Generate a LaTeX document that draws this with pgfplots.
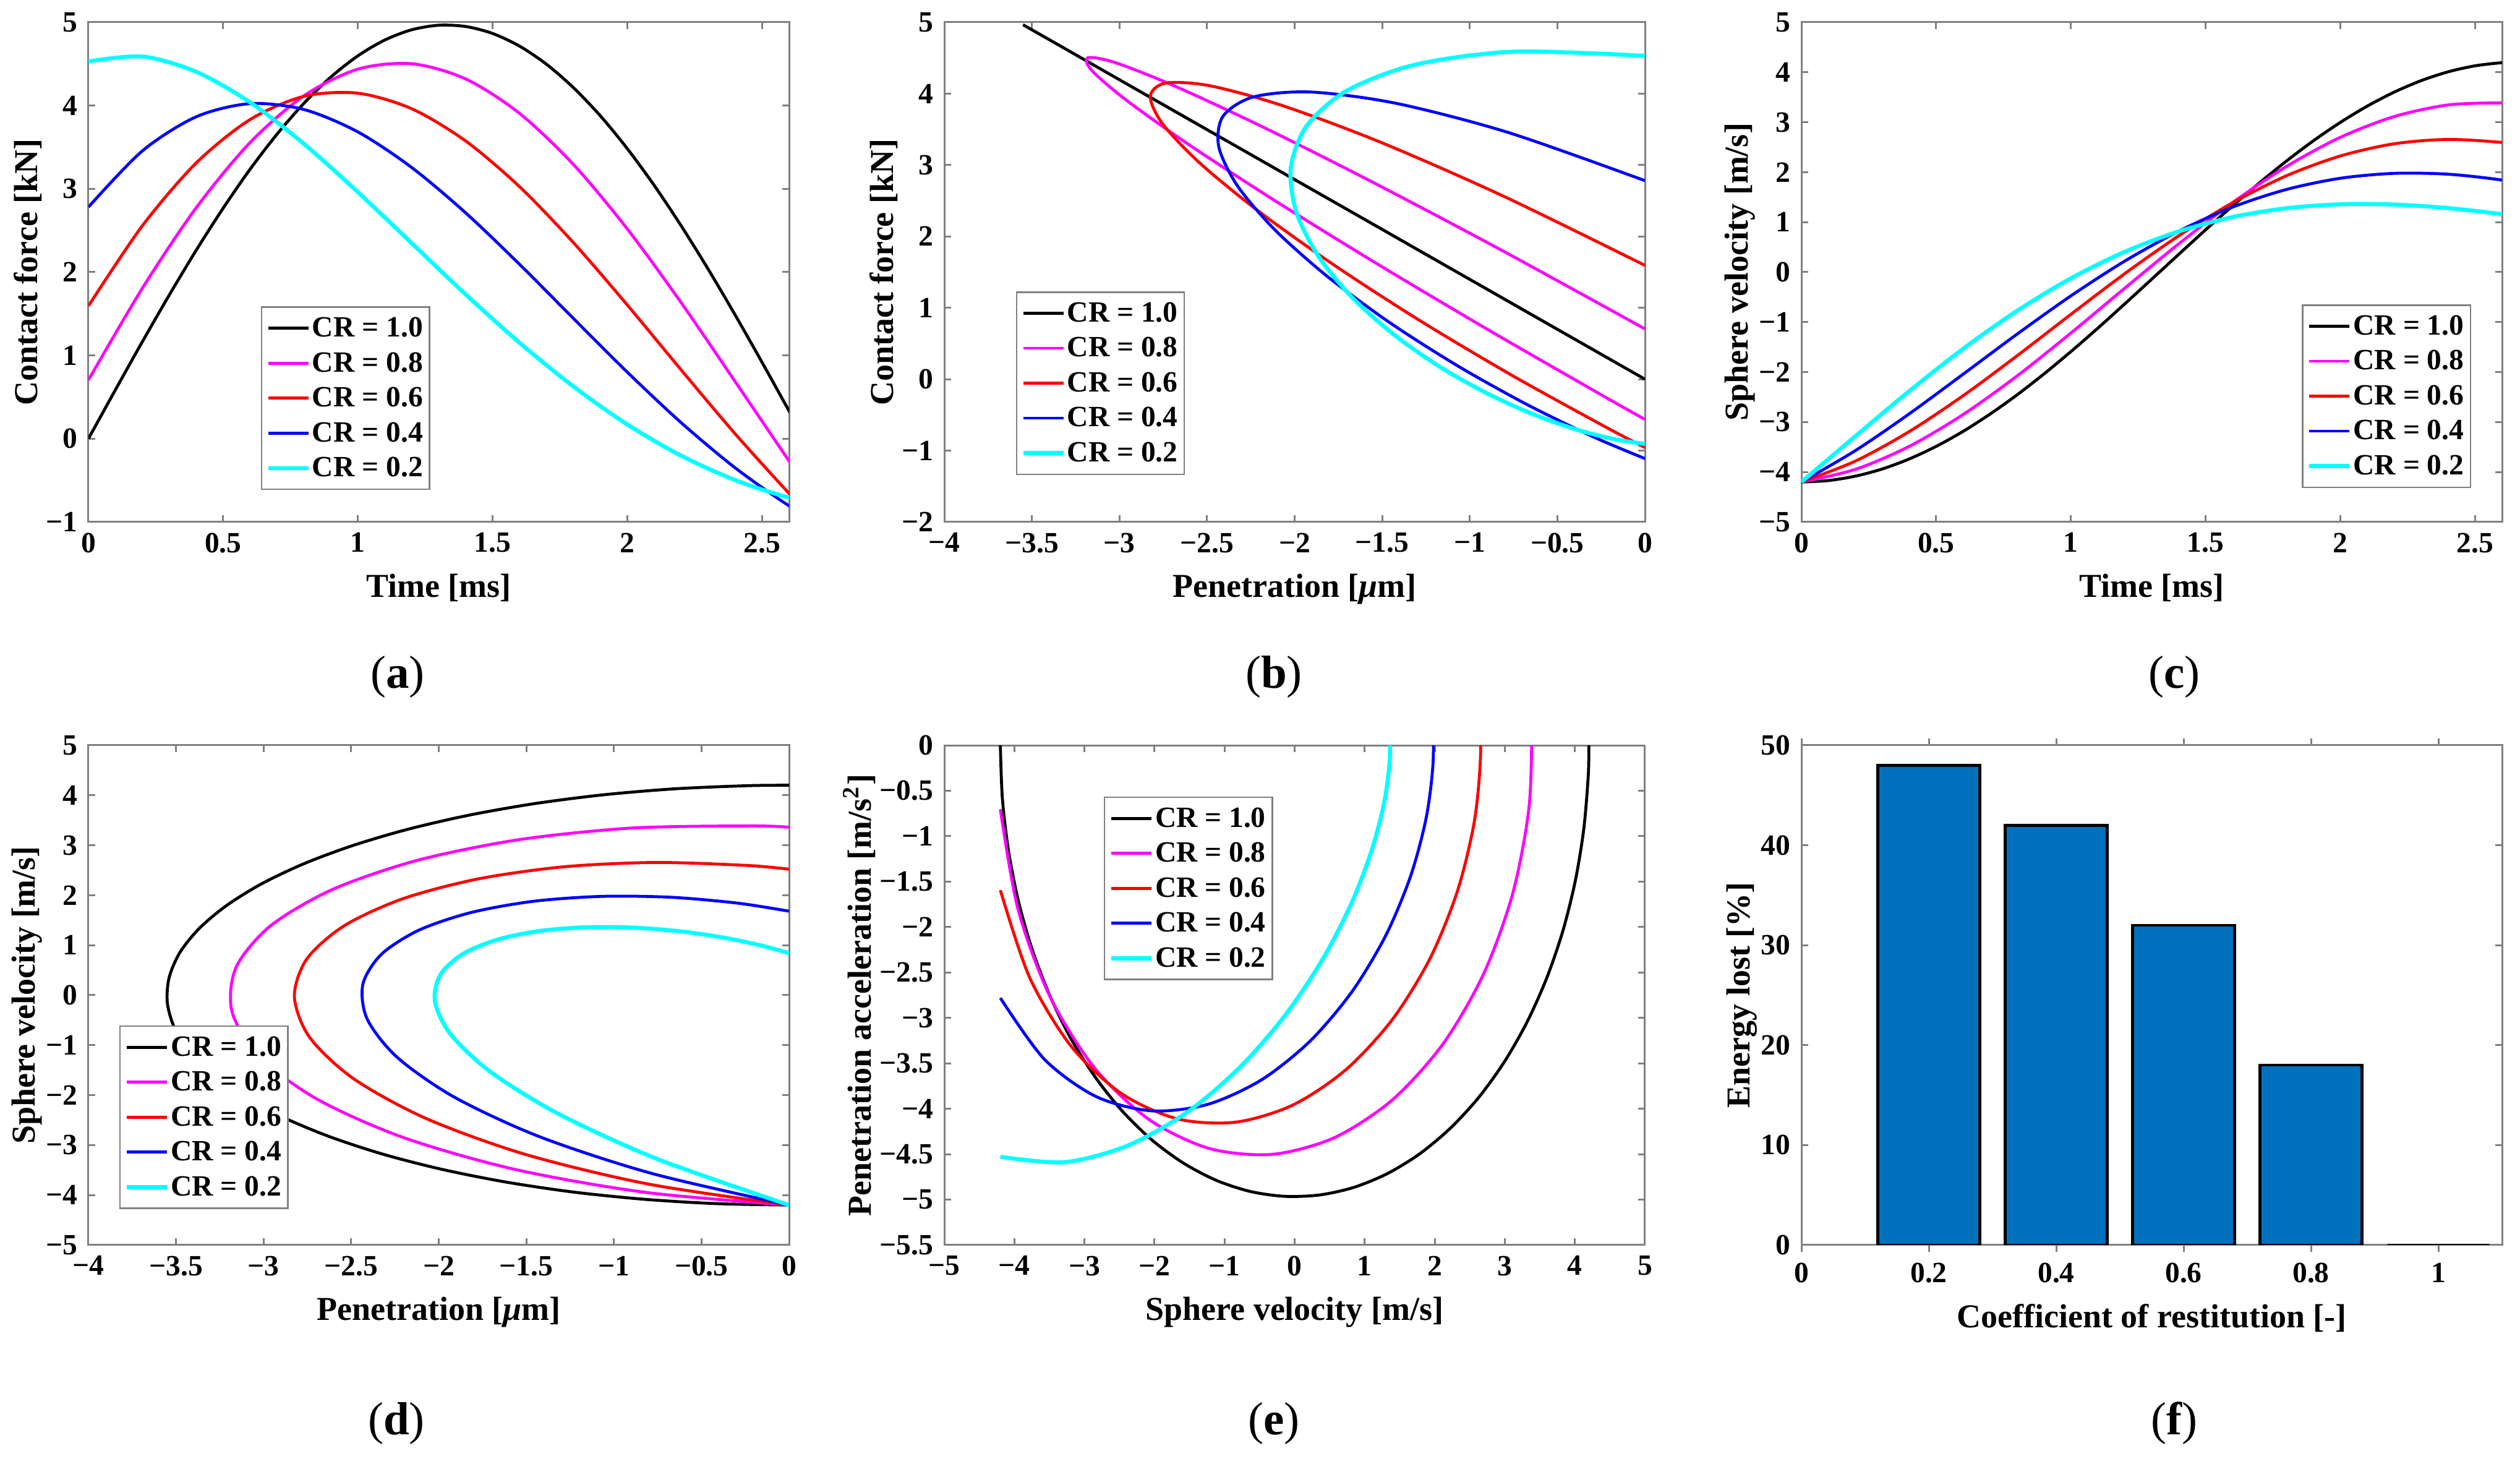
\documentclass[border=0pt]{standalone}
\usepackage{fontspec}
\setmainfont{Liberation Serif}
\usepackage{pgfplots}
\usepackage{pgfplotstable}
\pgfplotsset{compat=1.18}
\definecolor{mblue}{rgb}{0,0.447,0.741}
\definecolor{mcyan}{rgb}{0,1,1}
\definecolor{mmag}{rgb}{1,0,1}
\definecolor{mred}{rgb}{1,0,0}
\definecolor{mblu}{rgb}{0,0,1}

% columns: t [ms], x penetration, v velocity, F contact force, a acceleration
\pgfplotstableread{
t x v F a
0 0 -4.200 0 0
0.1 -0.419 -4.171 0.586 -0.586
0.2 -0.832 -4.083 1.164 -1.164
0.3 -1.234 -3.939 1.725 -1.725
0.4 -1.618 -3.739 2.263 -2.263
0.5 -1.980 -3.487 2.768 -2.768
0.6 -2.314 -3.187 3.236 -3.236
0.7 -2.616 -2.841 3.657 -3.657
0.8 -2.881 -2.457 4.028 -4.028
0.9 -3.106 -2.038 4.343 -4.343
1.0 -3.287 -1.590 4.597 -4.597
1.1 -3.423 -1.121 4.787 -4.787
1.2 -3.511 -0.635 4.910 -4.910
1.3 -3.550 -0.141 4.964 -4.964
1.4 -3.539 0.355 4.949 -4.949
1.5 -3.479 0.847 4.865 -4.865
1.6 -3.370 1.326 4.713 -4.713
1.7 -3.214 1.787 4.495 -4.495
1.8 -3.014 2.223 4.214 -4.214
1.9 -2.771 2.628 3.875 -3.875
2.0 -2.489 2.996 3.481 -3.481
2.1 -2.173 3.322 3.039 -3.039
2.2 -1.826 3.602 2.554 -2.554
2.3 -1.454 3.832 2.034 -2.034
2.4 -1.062 4.008 1.485 -1.485
2.5 -0.655 4.128 0.915 -0.915
2.6 -0.238 4.191 0.333 -0.333
2.657 0 4.200 0 0
}\tA
\pgfplotstableread{
t x v F a
0 0 -4.200 0.704 -0.704
0.2 -0.818 -3.947 1.806 -1.806
0.4 -1.565 -3.487 2.773 -2.773
0.6 -2.201 -2.850 3.556 -3.556
0.8 -2.696 -2.079 4.118 -4.118
1.0 -3.027 -1.219 4.437 -4.437
1.2 -3.181 -0.321 4.502 -4.502
1.4 -3.156 0.565 4.319 -4.319
1.6 -2.959 1.391 3.905 -3.905
1.8 -2.607 2.114 3.291 -3.291
2.0 -2.123 2.697 2.517 -2.517
2.2 -1.539 3.113 1.631 -1.631
2.4 -0.890 3.345 0.685 -0.685
2.6 -0.214 3.386 -0.268 0.268
2.663 0 3.360 -0.563 0.563
}\tB
\pgfplotstableread{
t x v F a
0 0 -4.200 1.594 -1.594
0.2 -0.801 -3.782 2.556 -2.556
0.4 -1.501 -3.191 3.311 -3.311
0.6 -2.069 -2.473 3.832 -3.832
0.8 -2.485 -1.675 4.111 -4.111
1.0 -2.737 -0.845 4.148 -4.148
1.2 -2.824 -0.030 3.961 -3.961
1.4 -2.753 0.726 3.574 -3.574
1.6 -2.540 1.388 3.025 -3.025
1.8 -2.206 1.928 2.353 -2.353
2.0 -1.778 2.324 1.604 -1.604
2.2 -1.287 2.568 0.824 -0.824
2.4 -0.762 2.655 0.058 -0.058
2.6 -0.234 2.594 -0.657 0.657
2.692 0 2.520 -0.957 0.957
}\tC
\pgfplotstableread{
t x v F a
0 0 -4.200 2.781 -2.781
0.2 -0.779 -3.572 3.455 -3.455
0.4 -1.422 -2.836 3.865 -3.865
0.6 -1.910 -2.043 4.023 -4.023
0.8 -2.238 -1.242 3.952 -3.952
1.0 -2.409 -0.475 3.683 -3.683
1.2 -2.433 0.221 3.255 -3.255
1.4 -2.327 0.819 2.711 -2.711
1.6 -2.113 1.301 2.093 -2.093
1.8 -1.815 1.654 1.443 -1.443
2.0 -1.460 1.878 0.798 -0.798
2.2 -1.072 1.976 0.191 -0.191
2.4 -0.677 1.959 -0.350 0.350
2.6 -0.296 1.842 -0.806 0.806
2.767 0 1.680 -1.112 1.112
}\tD
\pgfplotstableread{
t x v F a
0 0 -4.200 4.529 -4.529
0.2 -0.749 -3.284 4.588 -4.588
0.4 -1.314 -2.381 4.405 -4.405
0.6 -1.705 -1.534 4.038 -4.038
0.8 -1.934 -0.775 3.539 -3.539
1.0 -2.022 -0.124 2.960 -2.960
1.2 -1.991 0.407 2.346 -2.346
1.4 -1.867 0.815 1.732 -1.732
1.6 -1.674 1.102 1.151 -1.151
1.8 -1.434 1.279 0.626 -0.626
2.0 -1.169 1.357 0.170 -0.170
2.2 -0.896 1.352 -0.205 0.205
2.4 -0.632 1.281 -0.497 0.497
2.6 -0.387 1.159 -0.708 0.708
2.8 -0.171 1.003 -0.842 0.842
2.985 0 0.840 -0.906 0.906
}\tE

\pgfplotsset{
  panel/.style={
    scale only axis, width=226.6pt, height=161.6pt, anchor=south west,
    axis line style={black!50, line width=0.6pt},
    tick style={black!50, line width=0.6pt},
    tick align=inside, major tick length=2.2pt,
    tick label style={font=\fontsize{9.5}{11}\selectfont\bfseries},
    label style={font=\fontsize{10.8}{13}\selectfont\bfseries},
    ylabel shift=-5.5pt,
    legend cell align=left,
    legend style={draw=black!50, line width=0.5pt, fill=white,
      font=\fontsize{9.5}{11}\selectfont\bfseries, inner xsep=1.5pt, inner ysep=1.2pt,
      row sep=0pt,
      nodes={inner xsep=0.6pt, inner ysep=0.9pt, text height=7.5pt, text depth=2pt}},
    legend image code/.code={\draw[##1] (0pt,0pt) -- (13pt,0pt);},
  },
  cA/.style={black, line width=0.95pt, smooth},
  cB/.style={mmag, line width=0.95pt, smooth},
  cC/.style={mred, line width=0.95pt, smooth},
  cD/.style={mblu, line width=0.95pt, smooth},
  cE/.style={mcyan, line width=1.3pt, smooth},
}

\begin{document}
\begin{tikzpicture}
\useasboundingbox (0,0) rectangle (815pt,473.4pt);

% (a)
\begin{axis}[panel, at={(28.6pt,304.6pt)},
  xmin=0, xmax=2.6, ymin=-1, ymax=5,
  xtick={0,0.5,1,1.5,2,2.5}, xticklabels={0,0.5,1,1.5,2,2.5},
  ytick={-1,0,1,2,3,4,5}, yticklabels={−1,0,1,2,3,4,5},
  xlabel={Time [ms]}, ylabel={Contact force [kN]},
  legend style={at={(0.246,0.064)}, anchor=south west}]
\addplot[cA] table[x=t,y=F]{\tA};
\addplot[cB] table[x=t,y=F]{\tB};
\addplot[cC] table[x=t,y=F]{\tC};
\addplot[cD] table[x=t,y=F]{\tD};
\addplot[cE] table[x=t,y=F]{\tE};
\legend{CR = 1.0, CR = 0.8, CR = 0.6, CR = 0.4, CR = 0.2}
\end{axis}

% (b)
\begin{axis}[panel, at={(305.4pt,304.6pt)},
  xmin=-4, xmax=0, ymin=-2, ymax=5,
  xtick={-4,-3.5,-3,-2.5,-2,-1.5,-1,-0.5,0},
  xticklabels={−4,−3.5,−3,−2.5,−2,−1.5,−1,−0.5,0},
  ytick={-2,-1,0,1,2,3,4,5}, yticklabels={−2,−1,0,1,2,3,4,5},
  xlabel={Penetration [{\itshape μ}m]}, ylabel={Contact force [kN]},
  legend style={at={(0.102,0.094)}, anchor=south west}]
\addplot[cA] table[x=x,y=F]{\tA};
\addplot[cB] table[x=x,y=F]{\tB};
\addplot[cC] table[x=x,y=F]{\tC};
\addplot[cD] table[x=x,y=F]{\tD};
\addplot[cE] table[x=x,y=F]{\tE};
\legend{CR = 1.0, CR = 0.8, CR = 0.6, CR = 0.4, CR = 0.2}
\end{axis}

% (c)
\begin{axis}[panel, at={(582.6pt,304.6pt)},
  xmin=0, xmax=2.6, ymin=-5, ymax=5,
  xtick={0,0.5,1,1.5,2,2.5}, xticklabels={0,0.5,1,1.5,2,2.5},
  ytick={-5,-4,-3,-2,-1,0,1,2,3,4,5}, yticklabels={−5,−4,−3,−2,−1,0,1,2,3,4,5},
  xlabel={Time [ms]}, ylabel={Sphere velocity [m/s]},
  legend style={at={(0.956,0.068)}, anchor=south east}]
\addplot[cA] table[x=t,y=v]{\tA};
\addplot[cB] table[x=t,y=v]{\tB};
\addplot[cC] table[x=t,y=v]{\tC};
\addplot[cD] table[x=t,y=v]{\tD};
\addplot[cE] table[x=t,y=v]{\tE};
\legend{CR = 1.0, CR = 0.8, CR = 0.6, CR = 0.4, CR = 0.2}
\end{axis}

% (d)
\begin{axis}[panel, at={(28.6pt,70.8pt)},
  xmin=-4, xmax=0, ymin=-5, ymax=5,
  xtick={-4,-3.5,-3,-2.5,-2,-1.5,-1,-0.5,0},
  xticklabels={−4,−3.5,−3,−2.5,−2,−1.5,−1,−0.5,0},
  ytick={-5,-4,-3,-2,-1,0,1,2,3,4,5}, yticklabels={−5,−4,−3,−2,−1,0,1,2,3,4,5},
  xlabel={Penetration [{\itshape μ}m]}, ylabel={Sphere velocity [m/s]},
  legend style={at={(0.044,0.072)}, anchor=south west}]
\addplot[cA] table[x=x,y=v]{\tA};
\addplot[cB] table[x=x,y=v]{\tB};
\addplot[cC] table[x=x,y=v]{\tC};
\addplot[cD] table[x=x,y=v]{\tD};
\addplot[cE] table[x=x,y=v]{\tE};
\legend{CR = 1.0, CR = 0.8, CR = 0.6, CR = 0.4, CR = 0.2}
\end{axis}

% (e)
\begin{axis}[panel, at={(305.4pt,70.8pt)},
  xmin=-5, xmax=5, ymin=-5.5, ymax=0,
  xtick={-5,-4,-3,-2,-1,0,1,2,3,4,5}, xticklabels={−5,−4,−3,−2,−1,0,1,2,3,4,5},
  ytick={-5.5,-5,-4.5,-4,-3.5,-3,-2.5,-2,-1.5,-1,-0.5,0},
  yticklabels={−5.5,−5,−4.5,−4,−3.5,−3,−2.5,−2,−1.5,−1,−0.5,0},
  xlabel={Sphere velocity [m/s]}, ylabel={Penetration acceleration [m/s\textsuperscript{2}]},
  legend style={at={(0.2275,0.8975)}, anchor=north west}]
\addplot[cA] table[x=v,y=a]{\tA};
\addplot[cB] table[x=v,y=a]{\tB};
\addplot[cC] table[x=v,y=a]{\tC};
\addplot[cD] table[x=v,y=a]{\tD};
\addplot[cE] table[x=v,y=a]{\tE};
\legend{CR = 1.0, CR = 0.8, CR = 0.6, CR = 0.4, CR = 0.2}
\end{axis}

% (f)
\begin{axis}[panel, at={(582.6pt,70.8pt)},
  xmin=0, xmax=1.1, ymin=0, ymax=50,
  xtick={0,0.2,0.4,0.6,0.8,1}, xticklabels={0,0.2,0.4,0.6,0.8,1},
  ytick={0,10,20,30,40,50}, yticklabels={0,10,20,30,40,50},
  xlabel={Coefficient of restitution [-]}, ylabel={Energy lost [\%]},
  ybar, bar width=0.16]
\addplot[fill=mblue, draw=black, line width=0.9pt] coordinates {(0.2,48) (0.4,42) (0.6,32) (0.8,18) (1.0,0)};
\end{axis}

\node[font=\fontsize{15}{18}\selectfont] at (128.6pt,254.6pt) {(\textbf{a})};
\node[font=\fontsize{15}{18}\selectfont] at (412pt,254.6pt) {(\textbf{b})};
\node[font=\fontsize{15}{18}\selectfont] at (703.2pt,254.6pt) {(\textbf{c})};
\node[font=\fontsize{15}{18}\selectfont] at (128.2pt,13.2pt) {(\textbf{d})};
\node[font=\fontsize{15}{18}\selectfont] at (412pt,13.2pt) {(\textbf{e})};
\node[font=\fontsize{15}{18}\selectfont] at (703.2pt,13.2pt) {(\textbf{f})};
\end{tikzpicture}
\end{document}
